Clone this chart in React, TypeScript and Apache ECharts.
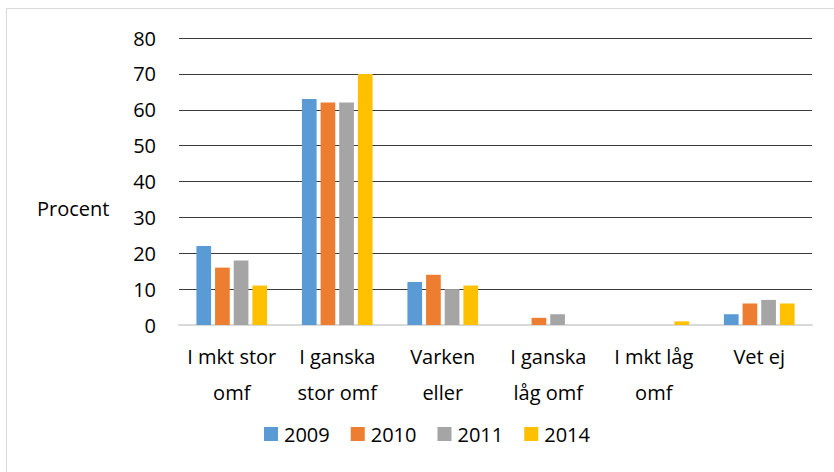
import React, { useEffect, useRef } from "react";
import * as echarts from "echarts";

const categories = ["I mkt stor\nomf", "I ganska\nstor omf", "Varken\neller", "I ganska\nlåg omf", "I mkt låg\nomf", "Vet ej"];
const seriesNames = ["2009", "2010", "2011", "2014"];
const values2009 = [22, 63, 12, 0, 0, 3];
const values2010 = [16, 62, 14, 2, 0, 6];
const values2011 = [18, 62, 10, 3, 0, 7];
const values2014 = [11, 70, 11, 0, 1, 6];
const colors = ["#5B9BD5", "#ED7D31", "#A5A5A5", "#FFC000"];
const yAxisTitle = "Procent";

const FONT = "'Open Sans', 'Noto Sans', sans-serif";

export default function App() {
  const ref = useRef<HTMLDivElement>(null);
  useEffect(() => {
    if (!ref.current) return;
    const chart = echarts.init(ref.current, undefined, { renderer: "svg" });
    const allValues = [values2009, values2010, values2011, values2014];
    chart.setOption({
      animation: false,
      backgroundColor: "#ffffff",
      textStyle: { fontFamily: FONT },
      grid: { left: 179, right: 22, top: 38, bottom: 147, containLabel: false },
      legend: {
        data: seriesNames,
        left: 264,
        top: 424,
        padding: 0,
        itemWidth: 14,
        itemHeight: 14,
        itemGap: 21,
        icon: "rect",
        textStyle: { fontFamily: FONT, fontSize: 20, color: "#000000", padding: [0, 0, 0, 1] },
      },
      xAxis: {
        type: "category",
        data: categories,
        axisLine: { show: true, lineStyle: { color: "#d9d9d9", width: 2 } },
        axisTick: { show: false },
        axisLabel: {
          fontFamily: FONT,
          fontSize: 20,
          color: "#000000",
          lineHeight: 36,
          margin: 13,
          interval: 0,
          align: "center",
        },
      },
      yAxis: {
        type: "value",
        min: 0,
        max: 80,
        interval: 10,
        axisLine: { show: false },
        axisTick: { show: false },
        splitLine: { show: true, lineStyle: { color: "#3a3a3a", width: 1 } },
        axisLabel: { fontFamily: FONT, fontSize: 20, color: "#000000", margin: 23 },
      },
      graphic: [
        {
          type: "line",
          shape: { x1: 6.5, y1: 8.5, x2: 834, y2: 8.5 },
          style: { stroke: "#d9d9d9", lineWidth: 1 },
        },
        {
          type: "line",
          shape: { x1: 6.5, y1: 8.5, x2: 6.5, y2: 472 },
          style: { stroke: "#d9d9d9", lineWidth: 1 },
        },
        {
          type: "text",
          x: 37,
          y: 208,
          style: {
            text: yAxisTitle,
            fontFamily: FONT,
            fontSize: 20,
            fill: "#000000",
            verticalAlign: "middle",
            align: "left",
          },
        },
      ],
      series: seriesNames.map((name, i) => ({
        name,
        type: "bar",
        data: allValues[i],
        barGap: "27%",
        barCategoryGap: "33%",
        itemStyle: { color: colors[i] },
      })),
    });
    return () => chart.dispose();
  }, []);
  return <div ref={ref} style={{ width: 834, height: 472, position: "absolute", left: 0, top: 0 }} />;
}
